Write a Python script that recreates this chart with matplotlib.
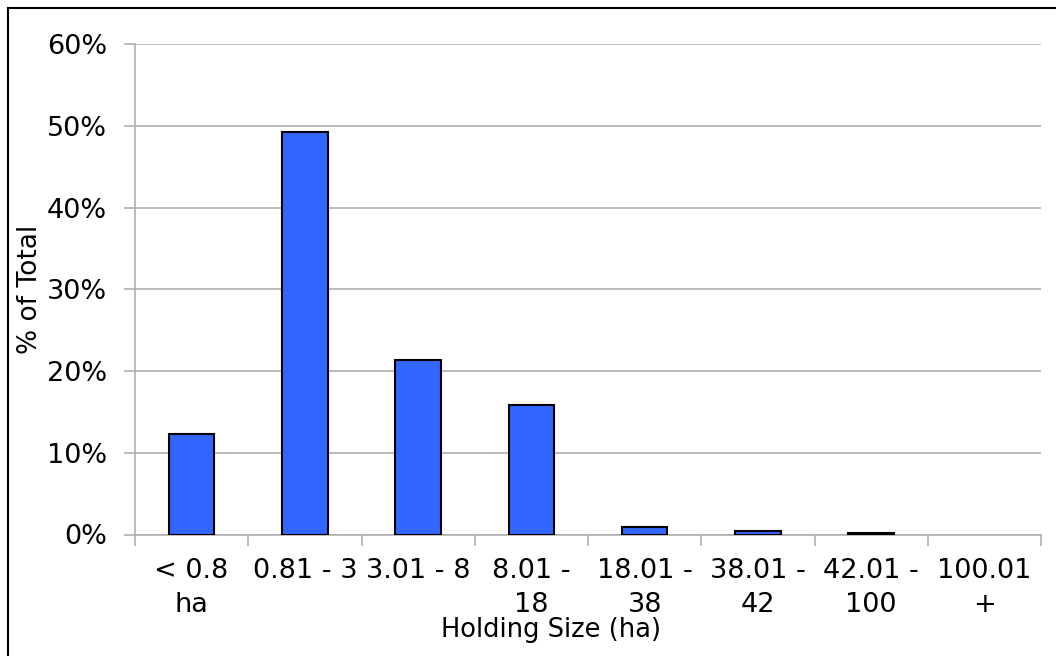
import matplotlib
matplotlib.use("Agg")
import matplotlib.pyplot as plt
from matplotlib.lines import Line2D
import numpy as np

categories = ["< 0.8\nha", "0.81 - 3", "3.01 - 8", "8.01 -\n18", "18.01 -\n38",
              "38.01 -\n42", "42.01 -\n100", "100.01\n+"]
values = [12.3, 49.2, 21.3, 15.8, 0.95, 0.43, 0.2, 0.0]
yticks = [0, 10, 20, 30, 40, 50, 60]
ytick_labels = ["0%", "10%", "20%", "30%", "40%", "50%", "60%"]

W, H = 1056, 656
fig = plt.figure(figsize=(W / 100, H / 100), dpi=100)
fig.patch.set_facecolor("white")

ax = fig.add_axes([135 / W, 1 - 534.5 / H, (1041 - 135) / W, (534.5 - 44) / H])
grey = "#B0B0B0"
x = np.arange(len(categories)) + 0.5
edges = ["black" if v > 0 else "none" for v in values]
ax.bar(x, values, width=0.4, color="#3366FF", edgecolor=edges, linewidth=1.5, zorder=3)

ax.set_xlim(0, len(categories))
ax.set_ylim(0, 60)
ax.set_yticks(yticks)
ax.set_yticklabels(ytick_labels, fontsize=19.5)
ax.yaxis.grid(True, color=grey, linewidth=1.2, zorder=0)
ax.tick_params(axis="y", length=8, width=1.2, color=grey, pad=12)

ax.set_xticks(np.arange(len(categories) + 1))
ax.set_xticklabels([])
ax.tick_params(axis="x", which="major", length=8, width=1.2, color=grey)
ax.set_xticks(x, minor=True)
ax.set_xticklabels(categories, minor=True, fontsize=19.5, linespacing=1.38)
ax.tick_params(axis="x", which="minor", length=0, pad=17)

for s in ["top", "right"]:
    ax.spines[s].set_visible(False)
for s in ["left", "bottom"]:
    ax.spines[s].set_color(grey)
    ax.spines[s].set_linewidth(1.2)

fig.text(30 / W, 0.5 * ((1 - 534.5 / H) + (1 - 44 / H)), "% of Total", rotation=90,
         fontsize=19, ha="center", va="center")
fig.text(551 / W, 1 - 637 / H, "Holding Size (ha)", fontsize=18.5, ha="center", va="baseline")

fig.add_artist(Line2D([7.5 / W, 7.5 / W], [0, 1 - 7.5 / H], color="black", linewidth=1.5,
                      transform=fig.transFigure))
fig.add_artist(Line2D([7.5 / W, 1], [1 - 7.5 / H, 1 - 7.5 / H], color="black", linewidth=1.5,
                      transform=fig.transFigure))

fig.savefig("out.png", dpi=100, facecolor="white")
